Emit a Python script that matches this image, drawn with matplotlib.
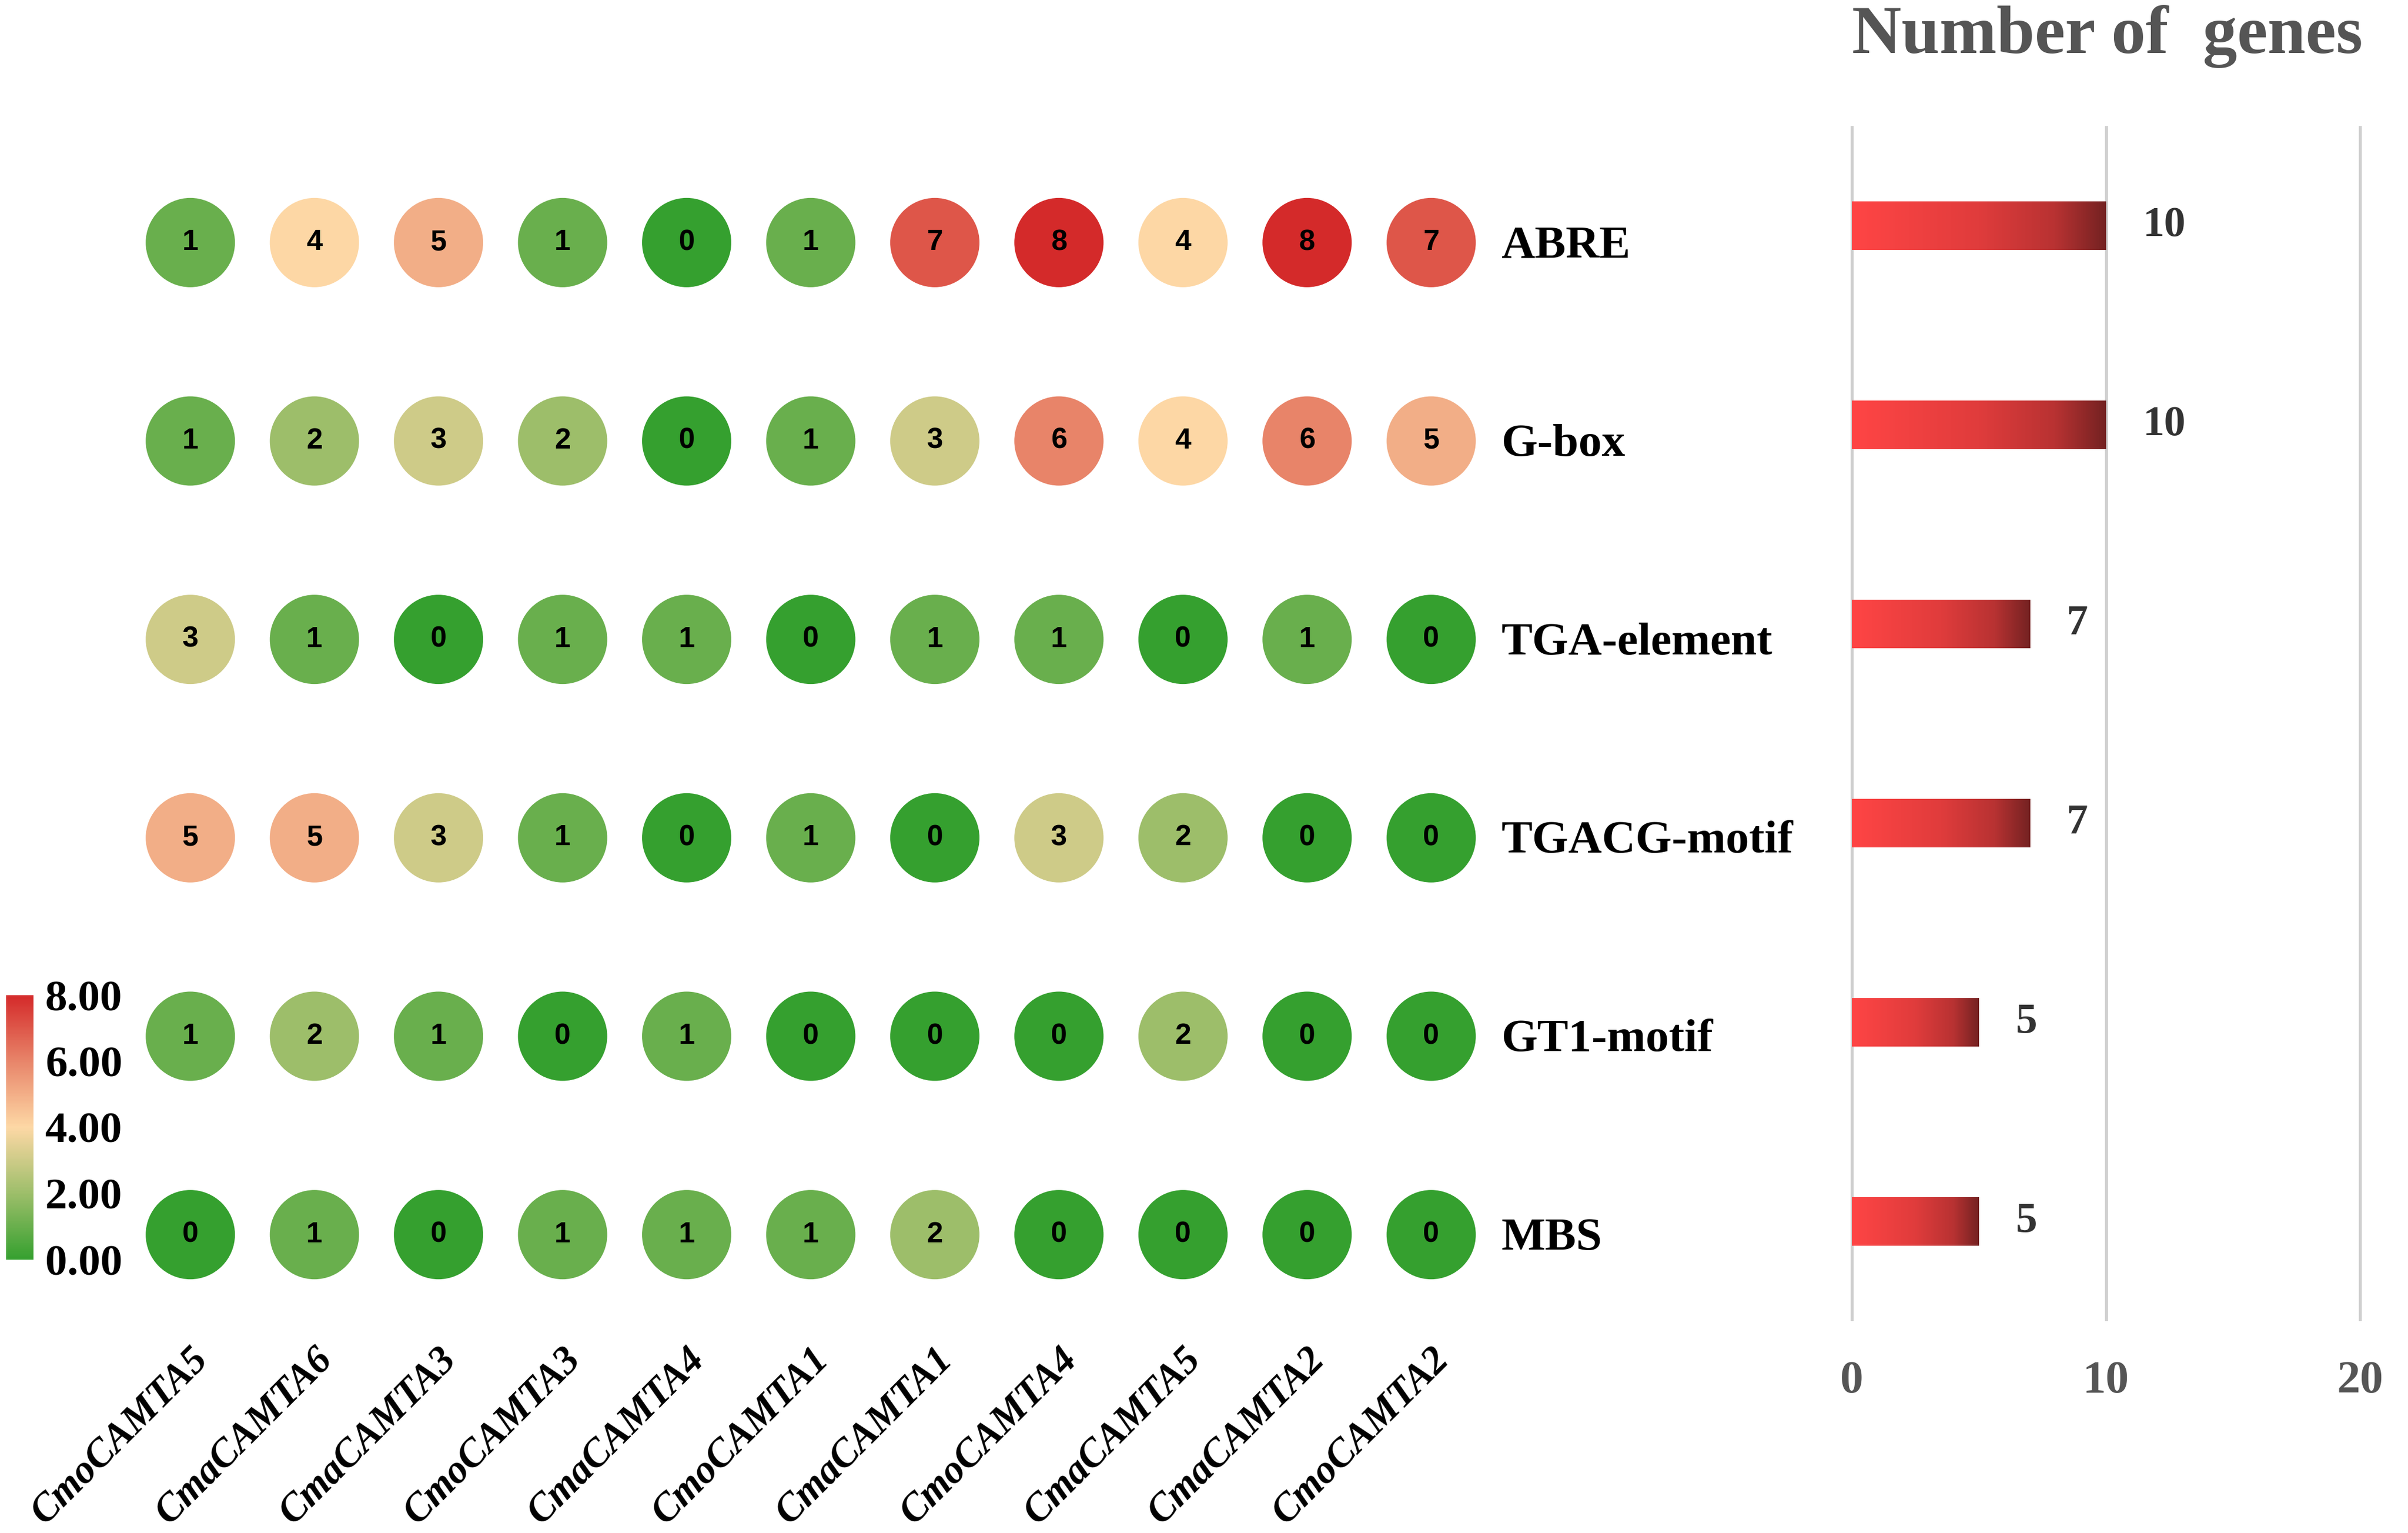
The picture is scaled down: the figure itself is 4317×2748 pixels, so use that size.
import matplotlib
matplotlib.use("Agg")
import matplotlib.pyplot as plt
import numpy as np
from matplotlib.colors import LinearSegmentedColormap, Normalize
from matplotlib.cm import ScalarMappable

# --- Data ---
genes = ["CmoCAMTA5", "CmaCAMTA6", "CmaCAMTA3", "CmoCAMTA3", "CmaCAMTA4", "CmoCAMTA1",
         "CmaCAMTA1", "CmoCAMTA4", "CmaCAMTA5", "CmaCAMTA2", "CmoCAMTA2"]
elements = ["ABRE", "G-box", "TGA-element", "TGACG-motif", "GT1-motif", "MBS"]
abre = [1, 4, 5, 1, 0, 1, 7, 8, 4, 8, 7]
gbox = [1, 2, 3, 2, 0, 1, 3, 6, 4, 6, 5]
tga = [3, 1, 0, 1, 1, 0, 1, 1, 0, 1, 0]
tgacg = [5, 5, 3, 1, 0, 1, 0, 3, 2, 0, 0]
gt1 = [1, 2, 1, 0, 1, 0, 0, 0, 2, 0, 0]
mbs = [0, 1, 0, 1, 1, 1, 2, 0, 0, 0, 0]
gene_numbers = [10, 10, 7, 7, 5, 5]
cbar_ticks = [0, 2, 4, 6, 8]
bar_ticks = [0, 10, 20]

counts = np.array([abre, gbox, tga, tgacg, gt1, mbs])

SERIF = "Liberation Serif"
SANS = "Liberation Sans"

W, H, DPI = 4317, 2748, 300
fig = plt.figure(figsize=(W / DPI, H / DPI), dpi=DPI)


def px_axes(left, top, right, bottom):
    # axes placed by pixel box (top-left origin)
    return fig.add_axes([left / W, 1 - bottom / H, (right - left) / W, (bottom - top) / H])


dot_cmap = LinearSegmentedColormap.from_list(
    "gr", [(0, "#35a02f"), (0.25, "#9dbe6a"), (0.5, "#fdd8a5"), (0.75, "#e8856a"), (1, "#d42a2a")])
norm = Normalize(0, 8)

# --- Dot matrix ---
ax = px_axes(230, 257, 2677, 2391)
ax.set_xlim(-0.5, 10.5)
ax.set_ylim(5.5, -0.5)
ax.axis("off")

xx, yy = np.meshgrid(np.arange(len(genes)), np.arange(len(elements)))
ax.scatter(xx.ravel(), yy.ravel(), c=counts.ravel(), cmap=dot_cmap, norm=norm,
           s=(160 * 72 / DPI) ** 2, edgecolors="none", clip_on=False)

for r in range(len(elements)):
    for c in range(len(genes)):
        ax.text(c, r, str(counts[r, c]), ha="center", va="center",
                fontsize=12.5, fontweight="bold", family=SANS)
    ax.text(10.565, r + 0.02, elements[r], ha="left", va="center",
            fontsize=20, fontweight="bold", family=SERIF, clip_on=False)

for c, g in enumerate(genes):
    ax.text(c + 0.1, 5.6, g, rotation=45, rotation_mode="anchor",
            ha="right", va="center", fontsize=17, fontstyle="italic",
            fontweight="bold", family=SERIF, clip_on=False)

# --- Colour bar ---
cax = px_axes(11, 1784, 60, 2258)
cb = fig.colorbar(ScalarMappable(norm=norm, cmap=dot_cmap), cax=cax, ticks=cbar_ticks)
cb.outline.set_visible(False)
cax.tick_params(length=0, pad=5)
cax.set_yticklabels([f"{t:.2f}" for t in cbar_ticks])
for lab in cax.get_yticklabels():
    lab.set_fontfamily(SERIF)
    lab.set_fontweight("bold")
    lab.set_fontsize(19)

# --- Bar chart: number of genes ---
bax = px_axes(3315, 226, 4236, 2368)
bar_h = 0.244
ypos = np.arange(len(elements))
bars = bax.barh(ypos, gene_numbers, height=bar_h, color="none", zorder=3)

bar_cmap = LinearSegmentedColormap.from_list(
    "rd", [(0, "#ff4545"), (0.5, "#e03c3c"), (0.8, "#b83232"), (1, "#742222")])
grad = np.linspace(0, 1, 256).reshape(1, -1)
for bar, y, n in zip(bars, ypos, gene_numbers):
    im = bax.imshow(grad, cmap=bar_cmap, aspect="auto", zorder=3,
                    extent=[0, n, y + bar_h / 2, y - bar_h / 2])
    im.set_clip_path(bar)
    bax.text(n + 1.45, y, str(n), ha="left", va="center", fontsize=18.5,
             fontweight="bold", family=SERIF, color="#333333")

bax.set_xlim(-0.1, 20.1)
bax.set_ylim(5.5, -0.5)
bax.set_xticks(bar_ticks)
bax.set_yticks([])
bax.xaxis.grid(True, color="#cfcfcf", linewidth=1.3)
bax.set_axisbelow(True)
for s in bax.spines.values():
    s.set_visible(False)
bax.tick_params(axis="x", length=0, pad=17)
for lab in bax.get_xticklabels():
    lab.set_fontfamily(SERIF)
    lab.set_fontweight("bold")
    lab.set_fontsize(20)
    lab.set_color("#555555")

fig.text(3778 / W, 1 - 95 / H, "Number of  genes", ha="center", va="baseline",
         fontsize=29.5, fontweight="bold", family=SERIF, color="#555555")

fig.savefig("out.png", dpi=DPI, facecolor="white")
